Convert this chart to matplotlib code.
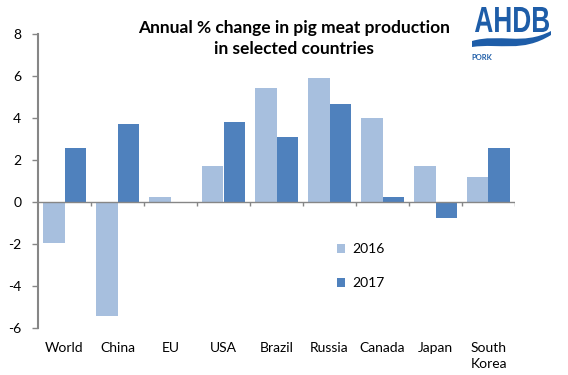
import matplotlib.pyplot as plt
import numpy as np
from matplotlib.path import Path
from matplotlib.patches import PathPatch
from matplotlib.textpath import TextPath
from matplotlib.font_manager import FontProperties
from matplotlib.transforms import Affine2D

plt.rcParams['font.family'] = ['Lato', 'DejaVu Sans']
plt.rcParams['axes.unicode_minus'] = False

countries = ['World', 'China', 'EU', 'USA', 'Brazil', 'Russia', 'Canada', 'Japan', 'South\nKorea']
change_2016 = [-1.95, -5.45, 0.25, 1.7, 5.45, 5.9, 4.0, 1.7, 1.2]
change_2017 = [2.57, 3.7, 0.0, 3.82, 3.1, 4.65, 0.25, -0.75, 2.55]
years = ['2016', '2017']
colors = ['#A7BFDE', '#4F81BD']

W, H = 568, 375
fig = plt.figure(figsize=(W / 100, H / 100), dpi=100)
ax = fig.add_axes([38 / W, 1 - 328 / H, 477 / W, 294 / H])

x = np.arange(len(countries))
w = 0.4
ax.bar(x - w / 2, change_2016, w, color=colors[0], label=years[0])
ax.bar(x + w / 2, change_2017, w, color=colors[1], label=years[1])

ax.set_xlim(-0.5, len(countries) - 0.5)
ax.set_ylim(-6, 8)
ax.set_yticks(np.arange(-6, 9, 2))
for s in ['top', 'right', 'bottom']:
    ax.spines[s].set_visible(False)
ax.spines['left'].set_color('#868686')
ax.spines['left'].set_linewidth(1.5)
ax.tick_params(axis='y', length=4, width=1, color='#868686', labelsize=10, pad=8)

# zero line with category separators
ax.axhline(0, color='#868686', lw=1, zorder=3)
bounds = np.arange(len(countries) + 1) - 0.5
ax.vlines(bounds[1:], -0.2, 0, color='#868686', lw=1, zorder=3)

ax.set_xticks(x)
ax.set_xticklabels(countries, fontsize=10, linespacing=1.45)
ax.tick_params(axis='x', length=0, pad=10)

# legend
ax.legend(loc='upper left', bbox_to_anchor=(0.6, 0.33), frameon=False, fontsize=10,
          handlelength=0.6, handleheight=0.6, handletextpad=0.5, labelspacing=1.55)

fig.text(0.518, 1 - 38.5 / H, 'Annual % change in pig meat production\nin selected countries',
         ha='center', va='center', fontsize=12.5, fontweight='bold', linespacing=1.35)

# AHDB logo
logo = '#1E5DA8'


def px(xp, yp):
    return (xp / W, 1 - yp / H)


tp = TextPath((0, 0), 'AHDB', size=1, prop=FontProperties(family='Liberation Sans', weight='bold'))
ext = tp.get_extents()
x0, x1, y0, y1 = 475, 549, 7, 32
tr = (Affine2D().translate(-ext.x0, -ext.y0)
      .scale((x1 - x0) / ext.width / W, (y1 - y0) / ext.height / H)
      .translate(x0 / W, 1 - y1 / H))
fig.add_artist(PathPatch(tr.transform_path(tp), transform=fig.transFigure,
                         facecolor=logo, edgecolor='none'))

verts = [px(472, 41), px(500, 33), px(522, 46), px(551, 31),
         px(551, 35), px(522, 53), px(500, 43), px(472, 47), px(472, 41)]
codes = [Path.MOVETO, Path.CURVE4, Path.CURVE4, Path.CURVE4,
         Path.LINETO, Path.CURVE4, Path.CURVE4, Path.CURVE4, Path.CLOSEPOLY]
fig.add_artist(PathPatch(Path(verts, codes), transform=fig.transFigure,
                         facecolor=logo, edgecolor='none'))
fig.text(471 / W, 1 - 58 / H, 'PORK', ha='left', va='center', fontsize=5.5, color=logo,
         fontweight='bold')

fig.savefig('out.png', dpi=100)
